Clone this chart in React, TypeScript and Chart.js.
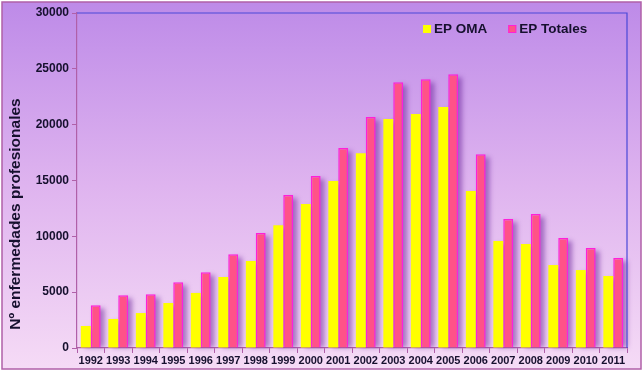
import React, { useEffect, useRef } from "react";
import { Chart, registerables } from "chart.js";

Chart.register(...registerables);

const years = ["1992","1993","1994","1995","1996","1997","1998","1999","2000","2001","2002","2003","2004","2005","2006","2007","2008","2009","2010","2011"];
const epOma = [1970, 2600, 3130, 4030, 4930, 6360, 7790, 11000, 12900, 14950, 17450, 20500, 20950, 21580, 14060, 9580, 9310, 7430, 6980, 6450];
const epTotales = [3820, 4720, 4810, 5880, 6780, 8390, 10300, 13700, 15400, 17900, 20690, 23790, 24060, 24510, 17350, 11550, 12000, 9850, 8950, 8060];
const yTicks = [0, 5000, 10000, 15000, 20000, 25000, 30000];
const yTitle = "Nº enfermedades profesionales";

const FONT = "'Liberation Sans', Arial, sans-serif";
const TEXT = "#16102e";

const bgPlugin = {
  id: "bg",
  beforeDraw(chart: any) {
    const { ctx, width, height } = chart;
    ctx.save();
    ctx.fillStyle = "#ffffff";
    ctx.fillRect(0, 0, width, height);
    const g = ctx.createLinearGradient(0, 0, 0, height);
    g.addColorStop(0, "#bd8ae8");
    g.addColorStop(0.5, "#dfb4ef");
    g.addColorStop(1, "#f6dcf6");
    ctx.fillStyle = g;
    ctx.fillRect(2, 2, width - 5, height - 7);
    ctx.strokeStyle = "#b060a8";
    ctx.lineWidth = 1.5;
    ctx.strokeRect(2, 2, width - 5, height - 7);
    // y title
    ctx.translate(16, 214);
    ctx.rotate(-Math.PI / 2);
    ctx.font = `bold 15.5px ${FONT}`;
    ctx.fillStyle = TEXT;
    ctx.textAlign = "center";
    ctx.textBaseline = "middle";
    ctx.fillText(yTitle, 0, 0);
    ctx.restore();
  },
  beforeDatasetsDraw(chart: any) {
    const ctx = chart.ctx;
    ctx.save();
    ctx.filter = "blur(2.5px)";
    ctx.fillStyle = "rgba(110,40,155,0.55)";
    chart.data.datasets.forEach((_: any, i: number) => {
      const meta = chart.getDatasetMeta(i);
      meta.data.forEach((el: any) => {
        const x0 = el.x - el.width / 2;
        ctx.fillRect(x0 + 4, el.y + 3, el.width, el.base - el.y - 3);
      });
    });
    ctx.restore();
  },
  afterDraw(chart: any) {
    const { ctx, chartArea } = chart;
    ctx.save();
    ctx.strokeStyle = "#4a48d8";
    ctx.lineWidth = 1.2;
    ctx.beginPath();
    ctx.moveTo(chartArea.left, chartArea.top);
    ctx.lineTo(chartArea.right, chartArea.top);
    ctx.lineTo(chartArea.right, chartArea.bottom);
    ctx.stroke();
    // legend
    const items = chart.data.datasets;
    ctx.font = `bold 13.5px ${FONT}`;
    ctx.textBaseline = "middle";
    let x = chartArea.right - 204;
    const y = chartArea.top + 16;
    items.forEach((ds: any) => {
      ctx.fillStyle = ds.backgroundColor;
      ctx.fillRect(x, y - 4, 8, 8);
      if (ds.borderWidth) {
        ctx.strokeStyle = ds.borderColor;
        ctx.lineWidth = 1;
        ctx.strokeRect(x + 0.5, y - 3.5, 7, 7);
      }
      ctx.fillStyle = TEXT;
      ctx.fillText(ds.label, x + 11, y);
      x += 11 + ctx.measureText(ds.label).width + 21;
    });
    ctx.restore();
  },
};

export default function App() {
  const ref = useRef<HTMLCanvasElement>(null);
  useEffect(() => {
    document.body.style.margin = "0";
    const chart = new Chart(ref.current!, {
      type: "bar",
      data: {
        labels: years,
        datasets: [
          { label: "EP OMA", data: epOma, backgroundColor: "#ffff00", borderWidth: 0, categoryPercentage: 0.72, barPercentage: 1 },
          { label: "EP Totales", data: epTotales, backgroundColor: "#ff5288", borderColor: "#ff20d8", borderWidth: 1.5, categoryPercentage: 0.72, barPercentage: 1 },
        ],
      },
      options: {
        animation: false,
        responsive: false,
        layout: { padding: { left: 0, right: 17, top: 13, bottom: 4 } },
        plugins: { legend: { display: false }, tooltip: { enabled: false } },
        scales: {
          x: {
            grid: { display: true, drawOnChartArea: false, offset: true, color: "#b060a8", tickLength: 5 },
            border: { color: "#b060a8", width: 1.2 },
            ticks: { color: TEXT, font: { family: FONT, size: 11, weight: "bold" }, padding: 1, maxRotation: 0, autoSkip: false },
            afterFit(scale: any) { scale.height = 22; },
          },
          y: {
            min: 0,
            max: 30000,
            afterBuildTicks(scale: any) { scale.ticks = yTicks.map((v) => ({ value: v })); },
            grid: { display: true, drawOnChartArea: false, color: "#b060a8", tickLength: 5 },
            border: { color: "#b060a8", width: 1.2 },
            ticks: { color: TEXT, font: { family: FONT, size: 12, weight: "bold" }, padding: 3, callback: (v: any) => String(v) },
            afterFit(scale: any) { scale.width = 77; },
          },
        },
      },
      plugins: [bgPlugin],
    });
    return () => chart.destroy();
  }, []);
  return <canvas ref={ref} width={644} height={374} style={{ display: "block" }} />;
}
